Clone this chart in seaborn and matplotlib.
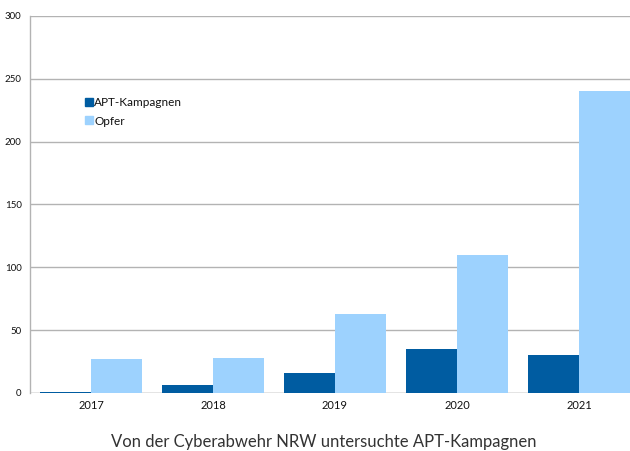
import matplotlib
matplotlib.use("Agg")
import matplotlib.pyplot as plt
import seaborn as sns
import pandas as pd
from matplotlib.lines import Line2D

years = ["2017", "2018", "2019", "2020", "2021"]
apt_kampagnen = [1, 6, 16, 35, 30]
opfer = [27, 28, 63, 110, 240]
series_names = ["APT-Kampagnen", "Opfer"]
y_ticks = [0, 50, 100, 150, 200, 250, 300]
title = "Von der Cyberabwehr NRW untersuchte APT-Kampagnen"

colors = {"APT-Kampagnen": "#005ca1", "Opfer": "#9dd2fe"}

df = pd.DataFrame({
    "Jahr": years * 2,
    "Wert": apt_kampagnen + opfer,
    "Serie": [series_names[0]] * len(years) + [series_names[1]] * len(years),
})

sns.set_theme(style="white")
plt.rcParams["font.family"] = ["Lato", "DejaVu Sans"]

fig = plt.figure(figsize=(6.3, 4.51), dpi=100)
ax = fig.add_axes([30 / 630, 58 / 451, 610 / 630, 377 / 451])

sns.barplot(data=df, x="Jahr", y="Wert", hue="Serie", palette=colors,
            width=0.84, gap=0, ax=ax, legend=False, saturation=1,
            linewidth=0, edgecolor="none")

ax.set_xlim(-0.5, 4.5)
ax.set_ylim(0, 300)
ax.set_yticks(y_ticks)
ax.set_yticklabels([str(t) for t in y_ticks], fontsize=7, color="#111111")
ax.tick_params(axis="x", labelsize=8, colors="#111111", length=0, pad=5)
ax.tick_params(axis="y", length=0, pad=6)
ax.set_xlabel("")
ax.set_ylabel("")
ax.yaxis.grid(True, color="#b3b3b3", linewidth=1)
ax.set_axisbelow(True)
for side in ["top", "right", "bottom"]:
    ax.spines[side].set_visible(False)
ax.spines["left"].set_color("#b3b3b3")
ax.spines["left"].set_linewidth(1)
ax.axhline(0, color="#b3b3b3", linewidth=1, zorder=0)

handles = [Line2D([0], [0], marker="s", linestyle="none", markersize=5.5,
                  markerfacecolor=colors[n], markeredgecolor=colors[n], label=n)
           for n in series_names]
ax.legend(handles=handles, loc="upper left", bbox_to_anchor=(0.077, 0.798),
          frameon=False, fontsize=8.5, handletextpad=-0.15, labelspacing=0.65,
          borderaxespad=0, handlelength=1.2, labelcolor="#111111")

fig.text(324 / 630, 1 - 442 / 451, title, ha="center", va="center",
         fontsize=12, color="#333333")

fig.savefig("out.png", dpi=100)
